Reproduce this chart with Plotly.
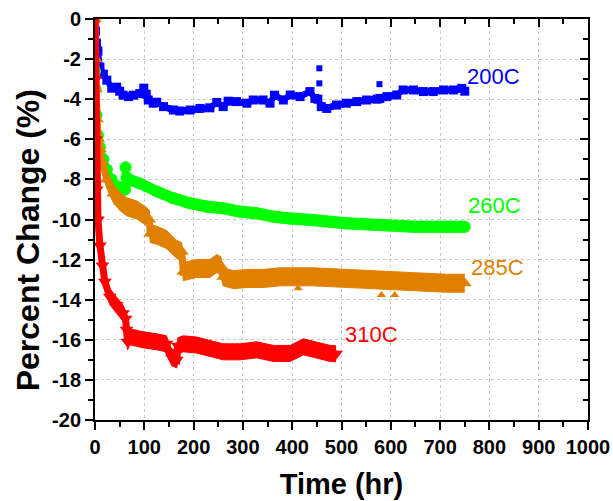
import plotly.graph_objects as go

# ---------------- data ----------------
t_200 = [0, 1, 3, 6, 10, 17, 24, 34, 44, 50, 57, 68, 78, 91, 99, 104, 108, 118, 125,
         139, 159, 172, 193, 213, 233, 247, 260, 270, 287, 308, 321, 341, 355, 364,
         382, 396, 416, 436, 446, 452, 459, 470, 490, 510, 531, 551, 572, 578, 592,
         612, 625, 646, 666, 686, 707, 727, 744, 750]
v_200 = [0, -0.6, -1.2, -1.6, -2.4, -2.75, -3.05, -3.45, -3.4, -3.6, -3.8, -3.87, -3.8,
         -3.72, -3.45, -3.75, -4.04, -4.2, -4.15, -4.37, -4.54, -4.59, -4.54, -4.46,
         -4.43, -4.16, -4.37, -4.1, -4.12, -4.2, -4.04, -4.04, -4.2, -3.8, -4.04, -3.79,
         -3.87, -3.62, -3.96, -4.0, -4.37, -4.46, -4.29, -4.2, -4.12, -4.04, -4.0, -3.96,
         -3.87, -3.79, -3.54, -3.54, -3.62, -3.62, -3.54, -3.54, -3.46, -3.6]
t_200_out = [455, 455, 577]
v_200_out = [-2.46, -3.21, -3.25]

t_260 = [0, 1, 3, 6, 10, 17, 24, 34, 47, 57, 61, 62, 64, 71, 91, 125, 159, 193, 227,
         260, 294, 328, 362, 392, 443, 510, 578, 646, 713, 750]
v_260 = [-2.6, -3.5, -4.8, -5.8, -6.4, -7.0, -7.5, -8.0, -8.36, -8.53, -8.5, -7.4, -7.9,
         -8.03, -8.2, -8.6, -8.94, -9.19, -9.36, -9.44, -9.61, -9.69, -9.86, -9.94,
         -10.03, -10.19, -10.27, -10.36, -10.36, -10.36]

t_285 = [0, 1, 2, 4, 7, 10, 14, 24, 37, 51, 64, 85, 105, 110, 112, 125, 145, 166, 176,
         179, 206, 233, 247, 255, 260, 281, 308, 341, 375, 443, 510, 578, 646, 713, 750]
v_285 = [0, -2.0, -3.5, -5.0, -6.0, -6.5, -7.1, -8.0, -8.7, -9.11, -9.36, -9.53, -9.86,
         -10.0, -10.7, -10.78, -11.0, -11.5, -11.6, -12.6, -12.44, -12.44, -12.2, -12.3,
         -12.86, -13.0, -12.94, -12.94, -12.86, -12.86, -12.94, -13.0, -13.1, -13.18, -13.18]
t_285_out = [412, 581, 608]
v_285_out = [-13.43, -13.77, -13.77]

t_310 = [0, 1, 2, 3.5, 6, 10, 15, 20, 30, 44, 57, 62, 64, 66, 71, 98, 125, 145, 150,
         156, 166, 168, 179, 206, 233, 260, 294, 328, 362, 396, 423, 450, 477, 489]
v_310 = [0, -3, -6, -8.5, -10, -11.3, -12.3, -13.1, -13.85, -14.27, -14.68, -14.95,
         -15.5, -16.1, -15.85, -16.0, -16.1, -16.2, -16.6, -16.9, -17.0, -16.3, -16.2,
         -16.26, -16.43, -16.6, -16.6, -16.5, -16.68, -16.68, -16.35, -16.5, -16.68, -16.7]

labels = ["200C", "260C", "285C", "310C"]
label_t = [750, 752, 758, 503]
label_v = [-2.87, -9.28, -12.37, -15.76]

x_ticks = list(range(0, 1001, 100))
y_ticks = list(range(-20, 1, 2))

# ---------------- styling ----------------
BLUE = "#0000FF"
GREEN = "#00FF00"
ORANGE = "#E08000"
RED = "#FF0000"
FONT = "Liberation Sans, Arial, sans-serif"

fig = go.Figure()

def band(t, v, color, symbol, half, width, msize):
    # scatter band: the data spread drawn as a filled strip around the readings
    fig.add_trace(go.Scatter(x=t, y=[y - half for y in v], mode="lines",
                             line=dict(color=color, width=1),
                             showlegend=False, hoverinfo="skip"))
    fig.add_trace(go.Scatter(x=t, y=[y + half for y in v], mode="lines",
                             line=dict(color=color, width=1), fill="tonexty",
                             fillcolor=color, showlegend=False, hoverinfo="skip"))
    fig.add_trace(go.Scatter(
        x=t, y=v, mode="lines+markers",
        line=dict(color=color, width=width),
        marker=dict(color=color, symbol=symbol, size=msize),
        showlegend=False, hoverinfo="skip"))

band(t_200, v_200, BLUE, "square", 0.15, 6, 9)
fig.add_trace(go.Scatter(x=t_200_out, y=v_200_out, mode="markers",
                         marker=dict(color=BLUE, symbol="square", size=6),
                         showlegend=False, hoverinfo="skip"))
band(t_260, v_260, GREEN, "circle", 0.28, 7, 12)
band(t_285, v_285, ORANGE, "triangle-up", 0.45, 7, 12)
fig.add_trace(go.Scatter(x=t_285_out, y=v_285_out, mode="markers",
                         marker=dict(color=ORANGE, symbol="triangle-up", size=8),
                         showlegend=False, hoverinfo="skip"))
band(t_310, v_310, RED, "triangle-down", 0.4, 7, 12)

# invisible trace for the mirrored (inward-tick) axes
fig.add_trace(go.Scatter(x=[None], y=[None], xaxis="x2", yaxis="y2",
                         showlegend=False, hoverinfo="skip"))

colors = [BLUE, GREEN, ORANGE, RED]
for lab, tx, vy, c in zip(labels, label_t, label_v, colors):
    fig.add_annotation(x=tx, y=vy, text=lab, showarrow=False, xanchor="left",
                       yanchor="middle", font=dict(family=FONT, size=22, color=c))

# y-axis title placed as an annotation (it sits a little below the axis centre)
fig.add_annotation(xref="paper", yref="paper", x=-0.136, y=0.448,
                   text="Percent Change (%)", textangle=-90, showarrow=False,
                   xanchor="center", yanchor="middle",
                   font=dict(family=FONT, size=32, color="black", weight="bold"))

axis_common = dict(showline=True, linecolor="black", linewidth=2, mirror=True,
                   ticks="outside", ticklen=8, tickwidth=2, tickcolor="black",
                   showgrid=True, gridcolor="#C8C8C8", griddash="dot", gridwidth=1,
                   zeroline=False, automargin=False,
                   tickfont=dict(family=FONT, size=20, color="black", weight="bold"))

fig.update_layout(
    width=613, height=501,
    margin=dict(l=95, r=25, t=19, b=81),
    paper_bgcolor="white", plot_bgcolor="white",
    xaxis=dict(range=[0, 1000], tickvals=x_ticks, ticktext=[str(v) for v in x_ticks],
               minor=dict(dtick=50, ticks="outside", ticklen=5, tickwidth=2,
                          tickcolor="black", showgrid=False),
               title=dict(text="Time (hr)", standoff=17,
                          font=dict(family=FONT, size=29, color="black", weight="bold")),
               **axis_common),
    yaxis=dict(range=[-20, 0], tickvals=y_ticks, ticktext=[str(v) for v in y_ticks],
               minor=dict(dtick=1, ticks="outside", ticklen=5, tickwidth=2,
                          tickcolor="black", showgrid=False),
               **axis_common),
    xaxis2=dict(overlaying="x", side="top", range=[0, 1000], anchor="y2",
                tickvals=x_ticks, ticks="inside", ticklen=8, tickwidth=2,
                tickcolor="black", showticklabels=False, showgrid=False,
                showline=False, zeroline=False, automargin=False,
                minor=dict(dtick=50, ticks="inside", ticklen=5, tickwidth=2,
                           tickcolor="black", showgrid=False)),
    yaxis2=dict(overlaying="y", side="right", range=[-20, 0], anchor="x2",
                tickvals=y_ticks, ticks="inside", ticklen=8, tickwidth=2,
                tickcolor="black", showticklabels=False, showgrid=False,
                showline=False, zeroline=False, automargin=False,
                minor=dict(dtick=1, ticks="inside", ticklen=5, tickwidth=2,
                           tickcolor="black", showgrid=False)),
)

# remove the default page margin so the 613x501 figure fills the window exactly
fig.write_html("out.html",
               config={"displayModeBar": False},
               post_script="document.body.style.margin='0px';"
                           "document.body.style.overflow='hidden';")
